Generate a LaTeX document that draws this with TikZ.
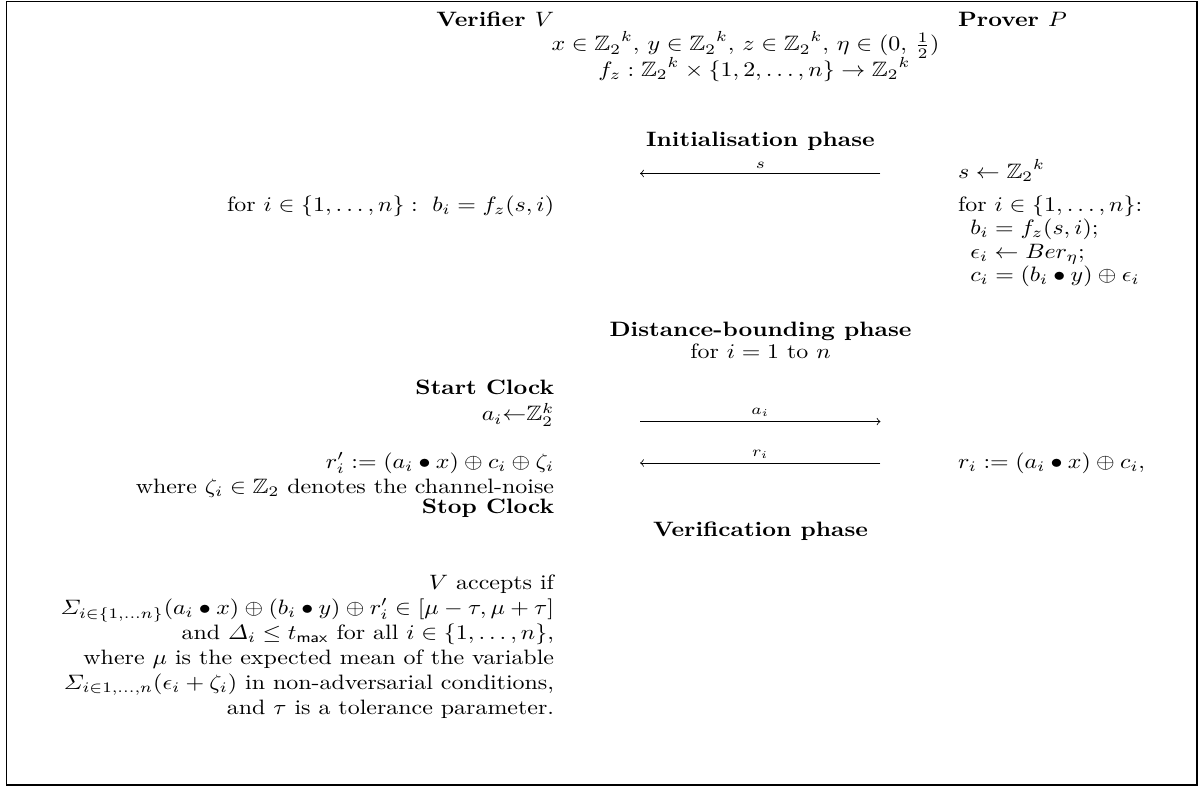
\documentclass[tikz,border=0pt]{standalone}
\usepackage{amsmath,amssymb}
\begin{document}
\begin{tikzpicture}[
  xscale=1.15, transform shape,
  vcol/.style={anchor=base east, inner sep=1pt},
  pcol/.style={anchor=base west, inner sep=1pt},
  mid/.style={anchor=base, inner sep=1pt},
  phase/.style={mid, font=\bfseries},
  msg/.style={->},
  lbl/.style={above, inner sep=2pt, font=\scriptsize}
]
\useasboundingbox (0,0) rectangle (17.64,-13.30);
\draw[line width=0.6pt] (0.09,-0.02) rectangle (17.58,-13.26);
% parties
\node[vcol, font=\bfseries] (ver) at (8.18,-0.45) {Verifier $V$};
\node[pcol, font=\bfseries] (prov) at (14.03,-0.45) {Prover $P$};
\node[mid] (sets) at (10.95,-0.86) {$x \in {\mathbb{Z}_2}^k,\, y \in {\mathbb{Z}_2}^k,\, z \in {\mathbb{Z}_2}^k,\, \eta \in (0,\,\frac{1}{2})$};
\node[mid] (prf) at (11.08,-1.29) {$f_z : {\mathbb{Z}_2}^k \times \{1,2,\ldots,n\} \rightarrow {\mathbb{Z}_2}^k$};
% initialisation
\node[phase] (init) at (11.17,-2.47) {Initialisation phase};
\coordinate (sP) at (12.93,-2.93);
\coordinate (sV) at (9.40,-2.93);
\draw[msg] (sP) -- node[lbl] {$s$} (sV);
\node[pcol] (seed) at (14.03,-3.01) {$s \leftarrow {\mathbb{Z}_2}^k$};
\node[vcol] (vloop) at (8.18,-3.57) {for $i \in \{1,\ldots,n\} :\ b_i = f_z(s,i)$};
\node[pcol] (ploop) at (14.03,-3.57) {for $i \in \{1,\ldots,n\}$:};
\node[pcol] (pb) at (14.21,-3.96) {$b_i = f_z(s,i);$};
\node[pcol] (pe) at (14.21,-4.36) {$\epsilon_i \leftarrow Ber_\eta;$};
\node[pcol] (pc) at (14.21,-4.75) {$c_i = (b_i \bullet y) \oplus \epsilon_i$};
% distance bounding
\node[phase] (dist) at (11.17,-5.68) {Distance-bounding phase};
\node[mid] (loop) at (11.17,-6.06) {for $i = 1$ to $n$};
\node[vcol, font=\bfseries] (start) at (8.18,-6.67) {Start Clock};
\node[vcol] (chal) at (8.18,-7.11) {$a_i{\leftarrow}\mathbb{Z}_2^k$};
\coordinate (aV) at (9.40,-7.12);
\coordinate (aP) at (12.93,-7.12);
\draw[msg] (aV) -- node[lbl] {$a_i$} (aP);
\node[vcol] (vresp) at (8.18,-7.91) {$r'_i := (a_i \bullet x) \oplus c_i \oplus \zeta_i$};
\coordinate (rP) at (12.93,-7.82);
\coordinate (rV) at (9.40,-7.82);
\draw[msg] (rP) -- node[lbl] {$r_i$} (rV);
\node[pcol] (presp) at (14.03,-7.91) {$r_i := (a_i \bullet x) \oplus c_i,$};
\node[vcol] (noise) at (8.18,-8.34) {where $\zeta_i \in \mathbb{Z}_2$ denotes the channel-noise};
\node[vcol, font=\bfseries] (stop) at (8.18,-8.68) {Stop Clock};
% verification
\node[phase] (verif) at (11.17,-9.06) {Verification phase};
\node[vcol] (acc1) at (8.18,-9.95) {$V$ accepts if};
\node[vcol] (acc2) at (8.18,-10.38) {$\varSigma_{i\in\{1,\ldots n\}}(a_i \bullet x) \oplus (b_i \bullet y) \oplus r'_i \in [\mu-\tau,\mu+\tau]$};
\node[vcol] (acc3) at (8.18,-10.80) {and $\varDelta_i \le t_{\mathsf{max}}$ for all $i \in \{1,\ldots,n\}$,};
\node[vcol] (acc4) at (8.18,-11.22) {where $\mu$ is the expected mean of the variable};
\node[vcol] (acc5) at (8.18,-11.64) {$\varSigma_{i\in 1,\ldots,n}(\epsilon_i+\zeta_i)$ in non-adversarial conditions,};
\node[vcol] (acc6) at (8.18,-12.07) {and $\tau$ is a tolerance parameter.};
\end{tikzpicture}
\end{document}
